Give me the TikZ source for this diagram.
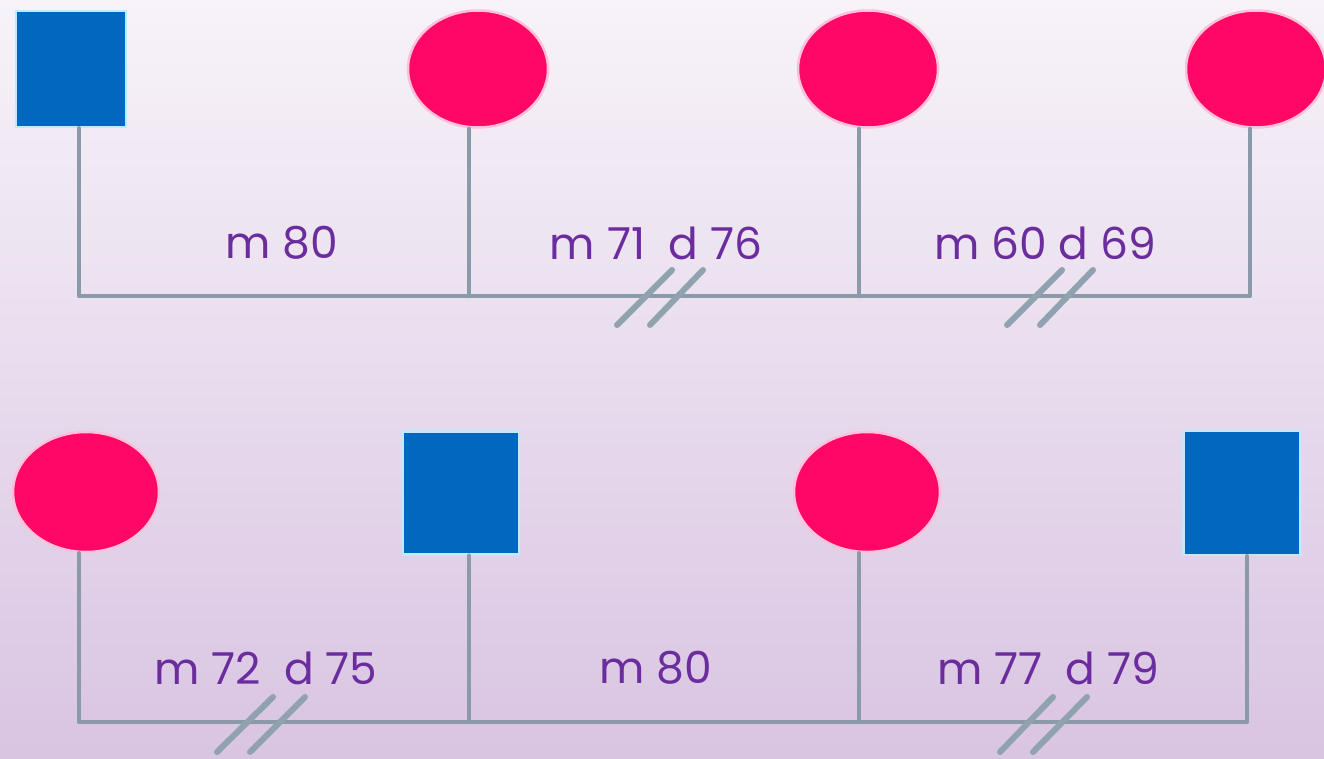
\documentclass[tikz,border=0pt]{standalone}
\usepackage{fontspec}
\setmainfont{Poppins}
\usetikzlibrary{shapes.geometric}
\definecolor{bgtop}{HTML}{F7F3F9}
\definecolor{bgbot}{HTML}{D9C4E2}
\definecolor{male}{HTML}{0068BE}
\definecolor{female}{HTML}{FF0766}
\definecolor{linec}{HTML}{8A9AA8}
\definecolor{hashc}{HTML}{90A2AE}
\definecolor{txt}{HTML}{6B2D9E}
\tikzset{
  malebox/.style={rectangle, fill=male, draw=white!75!cyan, line width=2.5pt, inner sep=0pt},
  femalebox/.style={ellipse, fill=female, draw=white!75!female, line width=2.5pt, inner sep=0pt, minimum width=140pt, minimum height=117pt},
  rel/.style={draw=linec, line width=4.5pt, line cap=round, line join=round},
  hashmark/.style={draw=hashc, line width=6pt, line cap=round},
  lbl/.style={text=txt, font=\fontsize{44}{46}\selectfont, inner sep=0pt}
}
\begin{document}
\begin{tikzpicture}[x=1pt,y=-1pt]
\shade[top color=bgtop, bottom color=bgbot] (0,0) rectangle (1324,758);
\useasboundingbox (0,0) rectangle (1324,758);
% top row
\node[malebox, minimum width=110pt, minimum height=116pt] (t1) at (71,69) {};
\node[femalebox] (t2) at (478,69) {};
\node[femalebox] (t3) at (868,69) {};
\node[femalebox] (t4) at (1256,69) {};
\coordinate (tj1) at (79,296);
\coordinate (tj2) at (469,296);
\coordinate (tj3) at (859,296);
\coordinate (tj4) at (1250,296);
\draw[rel] (tj1 |- t1.south) -- (tj1) -- (tj4) -- (tj4 |- t4.south);
\draw[rel] (tj2 |- t2.south) -- (tj2);
\draw[rel] (tj3 |- t3.south) -- (tj3);
\draw[hashmark] (617,325) -- (672,270);
\draw[hashmark] (650,325) -- (703,270);
\draw[hashmark] (1007,325) -- (1062,270);
\draw[hashmark] (1040,325) -- (1093,270);
\node[lbl] (l1) at (282,243) {m 80};
\node[lbl] (l2) at (656,243) {m 71\ \ d 76};
\node[lbl] (l3) at (1045,243) {m 60 d 69};
% bottom row
\node[femalebox, minimum width=146pt, minimum height=120pt] (b1) at (86,492) {};
\node[malebox, minimum width=116pt, minimum height=123pt] (b2) at (461,493) {};
\node[femalebox, minimum width=146pt, minimum height=120pt] (b3) at (867,492) {};
\node[malebox, minimum width=117pt, minimum height=124pt] (b4) at (1242,493) {};
\coordinate (bj1) at (79,722);
\coordinate (bj2) at (469,722);
\coordinate (bj3) at (859,722);
\coordinate (bj4) at (1247,722);
\draw[rel] (bj1 |- b1.south) -- (bj1) -- (bj4) -- (bj4 |- b4.south);
\draw[rel] (bj2 |- b2.south) -- (bj2);
\draw[rel] (bj3 |- b3.south) -- (bj3);
\draw[hashmark] (217,752) -- (273,697);
\draw[hashmark] (250,752) -- (305,697);
\draw[hashmark] (1000,752) -- (1053,697);
\draw[hashmark] (1033,752) -- (1087,697);
\node[lbl] (l4) at (266,668) {m 72\ \ d 75};
\node[lbl] (l5) at (656,668) {m 80};
\node[lbl] (l6) at (1048,668) {m 77\ \ d 79};
\end{tikzpicture}
\end{document}
